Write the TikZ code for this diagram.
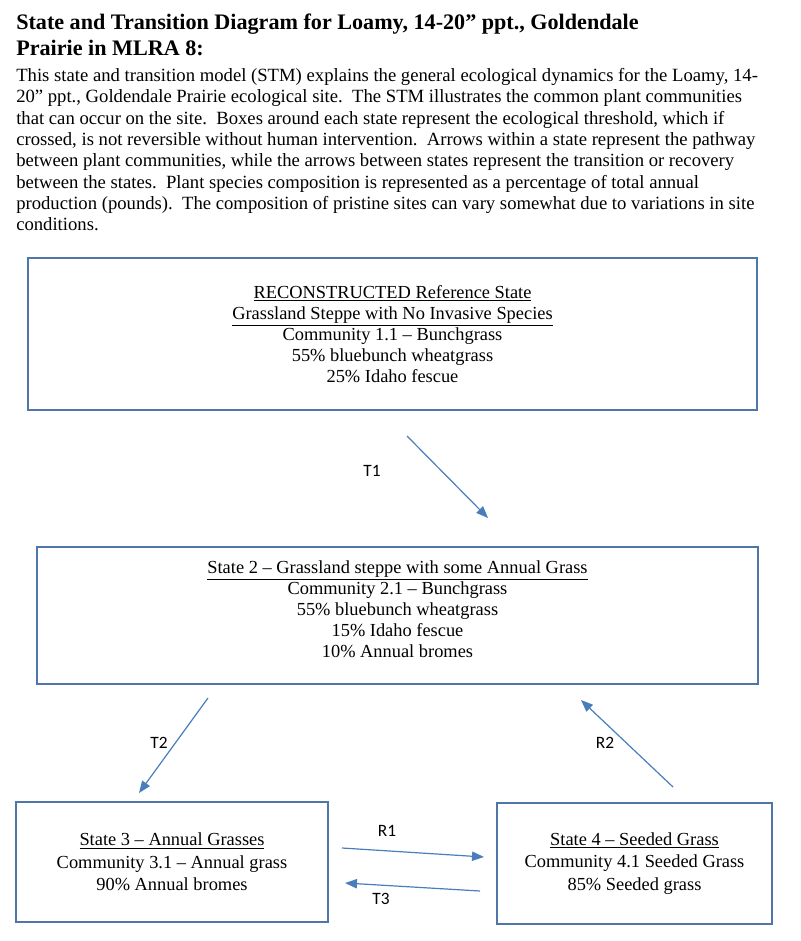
\documentclass[tikz,border=0pt]{standalone}
\usepackage{fontspec}
\setmainfont{Liberation Serif}
\newfontfamily\lblfont{Carlito}
\usepackage{xcolor}
\usetikzlibrary{arrows.meta}
\definecolor{boxblue}{RGB}{79,118,168}
\definecolor{arrblue}{RGB}{74,126,187}
\newcommand\px{0.75pt}
\newcommand\boxfont{\fontsize{13.8}{15.8}\selectfont}
\newcommand\lowfont{\fontsize{13.8}{16.9}\selectfont}
\tikzstyle{stbox}=[draw=boxblue,line width=2.2pt,align=center,inner sep=0pt,font=\boxfont]
\tikzstyle{tr}=[draw=arrblue,line width=0.9pt,-{Triangle[length=9pt,width=7pt]},arrblue]
\tikzstyle{trlbl}=[font=\lblfont\fontsize{13}{15}\selectfont,inner sep=0pt]
\begin{document}
\begin{tikzpicture}[x=0.75pt,y=-0.75pt]
  \useasboundingbox (0,0) rectangle (800,941);
  \node[anchor=north west,inner sep=0pt,align=left,font=\bfseries\fontsize{16.6}{19.5}\selectfont] (title) at (16,14)
    {State and Transition Diagram for Loamy, 14-20” ppt., Goldendale\\Prairie in MLRA 8:};
  \node[anchor=north west,inner sep=0pt,align=left,font=\fontsize{14}{16}\selectfont] (intro) at (16,68)
    {This state and transition model (STM) explains the general ecological dynamics for the Loamy, 14-\\
     20” ppt., Goldendale Prairie ecological site.\ \ The STM illustrates the common plant communities\\
     that can occur on the site.\ \ Boxes around each state represent the ecological threshold, which if\\
     crossed, is not reversible without human intervention.\ \ Arrows within a state represent the pathway\\
     between plant communities, while the arrows between states represent the transition or recovery\\
     between the states.\ \ Plant species composition is represented as a percentage of total annual\\
     production (pounds).\ \ The composition of pristine sites can vary somewhat due to variations in site\\
     conditions.};
  \node[stbox,minimum width=729*\px,minimum height=152*\px] (ref) at (392.5,334)
    {\underline{RECONSTRUCTED Reference State}\\\underline{Grassland Steppe with No Invasive Species}\\
     Community 1.1 – Bunchgrass\\55\% bluebunch wheatgrass\\25\% Idaho fescue};
  \node[stbox,text depth=10pt,minimum width=721*\px,minimum height=137*\px] (st2) at (397.5,615.5)
    {\underline{State 2 – Grassland steppe with some Annual Grass}\\Community 2.1 – Bunchgrass\\
     55\% bluebunch wheatgrass\\15\% Idaho fescue\\10\% Annual bromes};
  \node[stbox,font=\lowfont,minimum width=312*\px,minimum height=120*\px] (st3) at (172,862)
    {\underline{State 3 – Annual Grasses}\\Community 3.1 – Annual grass\\90\% Annual bromes};
  \node[stbox,font=\lowfont,minimum width=275*\px,minimum height=121*\px] (st4) at (634.5,863.5)
    {\underline{State 4 – Seeded Grass}\\Community 4.1 Seeded Grass\\85\% Seeded grass};
  \coordinate (t1a) at (407,436); \coordinate (t1b) at (488,518);
  \coordinate (t2a) at (208,698); \coordinate (t2b) at (139,793);
  \coordinate (r2a) at (673,787); \coordinate (r2b) at (581,700);
  \coordinate (r1a) at (342,848); \coordinate (r1b) at (484,857);
  \coordinate (t3a) at (480,891); \coordinate (t3b) at (345,883);
  \draw[tr] (t1a) -- (t1b);
  \draw[tr] (t2a) -- (t2b);
  \draw[tr] (r2a) -- (r2b);
  \draw[tr] (r1a) -- (r1b);
  \draw[tr] (t3a) -- (t3b);
  \node[trlbl] (lt1) at (372,471) {T1};
  \node[trlbl] (lt2) at (159,743) {T2};
  \node[trlbl] (lr2) at (605,743) {R2};
  \node[trlbl] (lr1) at (387,831) {R1};
  \node[trlbl] (lt3) at (381,899) {T3};
\end{tikzpicture}
\end{document}
